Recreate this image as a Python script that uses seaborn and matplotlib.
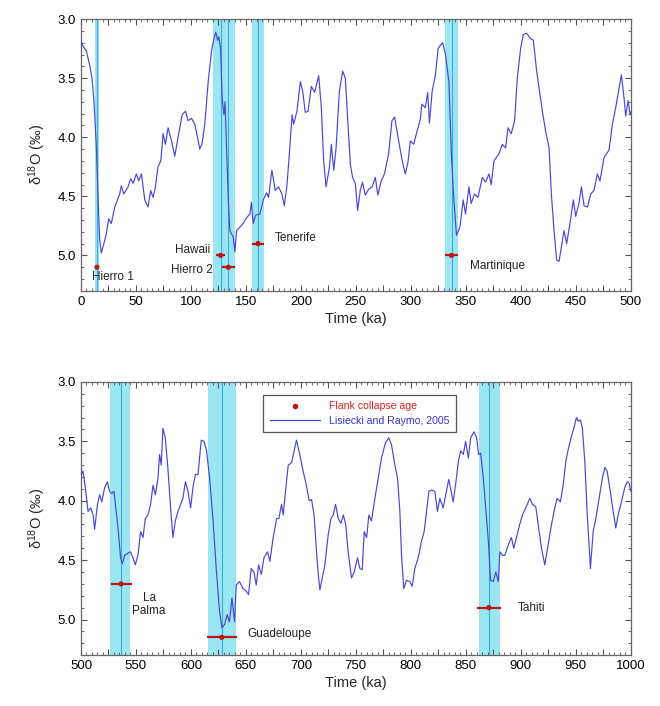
import matplotlib
matplotlib.use('Agg')
import numpy as np
import pandas as pd
import matplotlib.pyplot as plt
import seaborn as sns
from matplotlib.ticker import MultipleLocator, FuncFormatter
from matplotlib.lines import Line2D

# LR04 benthic stack (age in ka, d18O in permil)
age_top = [0.3, 1.8, 4.9, 7.9, 10, 11.8, 14, 15.5, 17, 18.5, 20, 23, 25.2, 27.6, 30.7, 35.2, 36.7, 39,
           42.8, 45.2, 47.4, 50.4, 52.5, 55, 58, 61, 63.4, 65.6, 67.7, 70, 72.6, 74.7, 76.8, 79.2, 82.3,
           85.3, 88.3, 92, 95, 97.5, 100.5, 103.5, 106, 108, 110, 112.6, 115.7, 118.7, 121, 122.6, 124.2,
           125.4, 127, 128.4, 130, 131, 132.4, 134, 135.4, 137, 138.4, 140, 141.5, 144.5, 147.5, 150.6,
           153.6, 155, 156.6, 158.8, 162.7, 165.8, 168.8, 170.6, 173.6, 176.7, 179.7, 182.7, 184.9, 187.3,
           189.5, 192, 193.4, 196.4, 199.5, 201.6, 204, 206.5, 209.5, 212.5, 216.2, 218.6, 220.7, 222.9,
           226, 227.7, 229.9, 232, 235, 238, 240.4, 242.8, 245, 247, 249.5, 251.6, 254, 256, 258.6, 261.6,
           264.7, 267.7, 270, 273, 276, 279.8, 282.8, 285.2, 287.4, 290.4, 292.8, 295, 297.4, 299.5,
           302.6, 305.6, 308.6, 310, 313.2, 315.3, 316.9, 319.4, 322.4, 324.8, 327, 329, 331.5, 334.6,
           337, 339, 341.5, 344.6, 347.6, 349.7, 352.8, 354.9, 357.9, 361, 365, 368, 371, 373.1, 375.6,
           380.1, 383.2, 386.2, 388.3, 391.3, 394.4, 396.8, 399.8, 402.3, 405.3, 408.3, 411.4, 414.4,
           417.5, 419.6, 422.6, 425.7, 427.8, 430.2, 432.6, 434.8, 436.9, 439.3, 441.7, 444.7, 447.8,
           449.9, 452.9, 455.1, 457.5, 460.6, 463.6, 466.6, 469.6, 472, 475.7, 480.2, 483.3, 486.3,
           489.4, 491.5, 493.9, 495.4, 497.6, 499.4, 500.3]
d18o_top = [3.19, 3.23, 3.27, 3.39, 3.50, 3.69, 4.09, 4.51, 4.87, 4.98, 4.93, 4.82, 4.69, 4.73, 4.59, 4.48,
            4.41, 4.48, 4.42, 4.35, 4.39, 4.31, 4.37, 4.31, 4.53, 4.59, 4.45, 4.51, 4.42, 4.25, 4.20, 3.97,
            4.06, 3.92, 4.03, 4.16, 4.00, 3.81, 3.78, 3.86, 3.84, 3.89, 4.00, 4.10, 4.06, 3.89, 3.53, 3.27,
            3.16, 3.11, 3.18, 3.15, 3.25, 3.67, 3.81, 3.70, 4.09, 4.53, 4.79, 4.82, 4.84, 4.97, 4.79, 4.76,
            4.73, 4.68, 4.65, 4.55, 4.73, 4.66, 4.65, 4.53, 4.47, 4.51, 4.28, 4.45, 4.42, 4.48, 4.58, 4.41,
            4.14, 3.81, 3.89, 3.78, 3.53, 3.61, 3.79, 3.78, 3.57, 3.62, 3.48, 3.75, 4.20, 4.42, 4.25, 4.06,
            4.28, 4.09, 3.61, 3.44, 3.50, 3.89, 4.23, 4.34, 4.39, 4.62, 4.45, 4.38, 4.49, 4.44, 4.42, 4.34,
            4.49, 4.37, 4.31, 4.14, 3.86, 3.83, 3.95, 4.11, 4.23, 4.31, 4.21, 4.03, 4.06, 3.95, 3.85, 3.72,
            3.75, 3.62, 3.88, 3.61, 3.47, 3.25, 3.22, 3.20, 3.30, 3.53, 4.17, 4.51, 4.83, 4.76, 4.53, 4.65,
            4.42, 4.56, 4.48, 4.51, 4.34, 4.38, 4.31, 4.40, 4.20, 4.14, 4.06, 4.09, 3.92, 3.97, 3.86, 3.50,
            3.25, 3.13, 3.12, 3.16, 3.18, 3.44, 3.64, 3.78, 3.95, 4.09, 4.48, 4.79, 5.04, 5.05, 4.93, 4.79,
            4.90, 4.73, 4.53, 4.67, 4.56, 4.42, 4.58, 4.59, 4.48, 4.45, 4.31, 4.37, 4.17, 4.11, 3.89, 3.75,
            3.58, 3.47, 3.67, 3.82, 3.69, 3.81, 3.78]

age_bottom = [499.4, 500.3, 501.8, 504, 506.4, 508.8, 511, 512.4, 515, 517, 519, 521.5, 524, 526, 528, 530,
              532, 534, 536, 537.6, 539.7, 542.7, 545, 547.3, 549.4, 551.8, 554.2, 556.4, 558.5, 561,
              563.3, 565.5, 567.6, 570, 571.5, 573, 574.5, 576.7, 579, 581.5, 583.6, 585.8, 588.2, 590.6,
              592.7, 595, 597.3, 599.7, 601.8, 604, 606.4, 609.4, 611.8, 614.2, 617, 620, 623, 626, 628.2,
              630.6, 633, 635, 637.3, 639.7, 641.2, 644.2, 647.3, 650.3, 652.4, 654.8, 657.3, 659.4, 661.5,
              664, 666.4, 669.7, 671.8, 674.8, 677.9, 680, 682.4, 683.9, 686, 688.5, 691.5, 693.9, 696, 699,
              702, 705, 707.5, 709.7, 712, 714.2, 715.8, 717.3, 719.4, 721.8, 724.8, 727.3, 729.4, 731.5,
              734, 736.4, 738.6, 740.8, 743, 746, 748.5, 751.5, 753.6, 755.8, 757.6, 759.8, 761.8, 764.2,
              767.3, 770.3, 773.3, 777, 780, 782.4, 785.5, 787.9, 790, 791.5, 793.6, 796, 799, 801.2, 803.6,
              806.7, 809.7, 812.1, 814.2, 816.4, 818.8, 821.8, 824.2, 826.4, 829.4, 832.4, 834.5, 838.5,
              841, 843.2, 845.3, 847.7, 849.8, 852.3, 854.4, 857.4, 859.8, 861.6, 863.5, 865.9, 868.3,
              870.5, 872.5, 875, 877.3, 879.5, 881, 883.4, 885.5, 887.6, 890, 891.5, 893.6, 896, 899, 901.5,
              904.5, 908.2, 910.6, 913.6, 915.8, 918.8, 921.8, 924.8, 927.9, 930.9, 933, 936, 938.5, 940.9,
              943.3, 946, 948.2, 950.6, 952.1, 954.2, 956, 958.2, 960.3, 962.1, 963.3, 965.8, 968.2, 971.2,
              974.2, 976.4, 978.5, 980.9, 984, 986.4, 988.5, 991.5, 994.5, 996.7, 998.5, 1000]
d18o_bottom = [3.81, 3.78, 3.75, 3.89, 4.09, 4.06, 4.12, 4.24, 4.03, 3.95, 4.01, 3.89, 3.84, 3.92, 3.94, 3.92,
               4.09, 4.26, 4.48, 4.53, 4.46, 4.44, 4.43, 4.48, 4.54, 4.46, 4.26, 4.31, 4.15, 4.12, 4.03,
               3.87, 3.95, 3.81, 3.61, 3.70, 3.39, 3.47, 3.72, 4.06, 4.31, 4.17, 4.09, 4.03, 3.98, 3.84,
               3.92, 4.06, 3.89, 3.78, 3.78, 3.49, 3.50, 3.58, 3.81, 4.15, 4.57, 4.93, 5.07, 5.04, 4.96,
               5.02, 4.82, 5.02, 4.71, 4.68, 4.74, 4.76, 4.79, 4.57, 4.60, 4.71, 4.54, 4.62, 4.48, 4.43,
               4.51, 4.31, 4.15, 4.15, 4.03, 4.12, 3.92, 3.70, 3.68, 3.58, 3.49, 3.61, 3.75, 3.87, 4.00,
               3.99, 4.12, 4.43, 4.62, 4.75, 4.65, 4.54, 4.29, 4.15, 4.12, 4.03, 4.15, 4.19, 4.12, 4.20,
               4.43, 4.65, 4.60, 4.48, 4.57, 4.58, 4.26, 4.31, 4.12, 4.17, 3.98, 3.81, 3.64, 3.51, 3.47,
               3.53, 3.70, 3.81, 4.09, 4.46, 4.74, 4.67, 4.68, 4.72, 4.57, 4.48, 4.34, 4.26, 4.09, 3.92,
               3.91, 3.92, 4.09, 3.98, 4.06, 3.92, 3.82, 4.01, 3.84, 3.67, 3.58, 3.61, 3.50, 3.64, 3.47,
               3.42, 3.47, 3.61, 3.60, 3.81, 4.09, 4.34, 4.67, 4.68, 4.60, 4.68, 4.43, 4.46, 4.46, 4.40,
               4.34, 4.31, 4.40, 4.31, 4.20, 4.12, 4.06, 3.98, 4.03, 4.05, 4.20, 4.40, 4.54, 4.37, 4.20,
               4.06, 3.98, 4.01, 3.87, 3.67, 3.56, 3.46, 3.39, 3.30, 3.33, 3.32, 3.39, 3.67, 4.09, 4.37,
               4.57, 4.26, 4.15, 3.98, 3.81, 3.72, 3.75, 3.89, 4.09, 4.23, 4.12, 4.01, 3.89, 3.84, 3.85,
               3.92]

# flank collapse events
event_names = ['Hierro 1', 'Hawaii', 'Hierro 2', 'Tenerife', 'Martinique', 'La\nPalma', 'Guadeloupe', 'Tahiti']
event_age = [14.5, 127, 134, 161, 337, 536.5, 628, 871]
event_err = [2, 4, 6, 5.5, 6, 9.5, 13.5, 11]
event_d18o = [5.1, 5.0, 5.1, 4.9, 5.0, 4.7, 5.15, 4.9]
band_lo = [12.5, 120, 128, 155.5, 331.5, 526.5, 615.5, 862]
band_hi = [16, 134, 140.5, 166, 342.5, 545, 641, 881.5]
label_x = [10, 118, 120, 176, 353.7, 562, 651, 897.6]
label_y = [5.18, 4.95, 5.12, 4.85, 5.09, 4.87, 5.12, 4.90]
label_ha = ['left', 'right', 'right', 'left', 'left', 'center', 'left', 'left']

line_color = '#4848d4'
band_color = '#9be6f3'
band_line = '#3aaed8'
red = '#c01414'

sns.set_style('ticks')
plt.rcParams['font.family'] = ['Liberation Sans', 'DejaVu Sans']
plt.rcParams['mathtext.fontset'] = 'custom'
plt.rcParams['mathtext.rm'] = 'Liberation Sans'
plt.rcParams['mathtext.it'] = 'Liberation Sans:italic'

fig = plt.figure(figsize=(6.6, 7.06), dpi=100)
ax_top = fig.add_axes([0.1227, 0.588, 0.833, 0.385])
ax_bot = fig.add_axes([0.1227, 0.072, 0.833, 0.387])

panels = [(ax_top, age_top, d18o_top, (0, 500)), (ax_bot, age_bottom, d18o_bottom, (500, 1000))]

for ax, ages, vals, xlim in panels:
    df = pd.DataFrame({'age': ages, 'd18o': vals})
    for i in range(len(event_age)):
        if xlim[0] <= event_age[i] <= xlim[1]:
            ax.axvspan(band_lo[i], band_hi[i], color=band_color, lw=0, zorder=0)
    for i in range(len(event_age)):
        if xlim[0] <= event_age[i] <= xlim[1]:
            ax.axvline(event_age[i], color=band_line, lw=0.8, zorder=1)
    sns.lineplot(data=df, x='age', y='d18o', ax=ax, color=line_color, lw=0.85,
                 estimator=None, sort=False, zorder=3)

    ev = pd.DataFrame({'age': event_age, 'd18o': event_d18o, 'err': event_err})
    ev = ev[(ev['age'] >= xlim[0]) & (ev['age'] <= xlim[1])]
    ax.errorbar(ev['age'], ev['d18o'], xerr=ev['err'], fmt='none', ecolor=red, elinewidth=1.6,
                capsize=0, zorder=4)
    sns.scatterplot(data=ev, x='age', y='d18o', ax=ax, color=red, s=14, edgecolor='none', zorder=5)

    for i in range(len(event_names)):
        if xlim[0] <= event_age[i] <= xlim[1]:
            ax.text(label_x[i], label_y[i], event_names[i], ha=label_ha[i], va='center',
                    fontsize=8.5, color='#222222', linespacing=1.1)

    ax.set_xlim(*xlim)
    ax.set_ylim(5.3, 3.0)
    ax.xaxis.set_major_locator(MultipleLocator(25))
    ax.xaxis.set_major_formatter(FuncFormatter(lambda v, p: f'{v:.0f}' if round(v) % 50 == 0 else ''))
    ax.xaxis.set_minor_locator(MultipleLocator(5))
    ax.yaxis.set_major_locator(MultipleLocator(0.5))
    ax.yaxis.set_major_formatter(FuncFormatter(lambda v, p: f'{v:.1f}'))
    ax.yaxis.set_minor_locator(MultipleLocator(0.1))
    ax.tick_params(which='both', direction='in', top=True, right=True, colors='#555555',
                   labelcolor='black', labelsize=9.5)
    ax.tick_params(which='major', length=4, width=0.8)
    ax.tick_params(which='minor', length=2, width=0.6)
    for s in ax.spines.values():
        s.set_color('#666666')
        s.set_linewidth(0.9)
    ax.set_xlabel('Time (ka)', fontsize=10.5, labelpad=3)
    ax.set_ylabel('δ$^{18}$O (‰)', fontsize=10.5, labelpad=7)

handles = [Line2D([], [], marker='o', color=red, ls='none', markersize=3),
           Line2D([], [], color=line_color, lw=0.9)]
leg = ax_bot.legend(handles, ['Flank collapse age', 'Lisiecki and Raymo, 2005'],
                    loc='upper left', bbox_to_anchor=(0.322, 0.972), fontsize=7.6, frameon=True,
                    fancybox=False, edgecolor='#555555', framealpha=1, handlelength=4.8,
                    borderpad=0.6, labelspacing=0.45)
leg.get_frame().set_linewidth(0.9)
leg.get_texts()[0].set_color('#dd2222')
leg.get_texts()[1].set_color('#3333cc')

fig.savefig('out.png', dpi=100)
